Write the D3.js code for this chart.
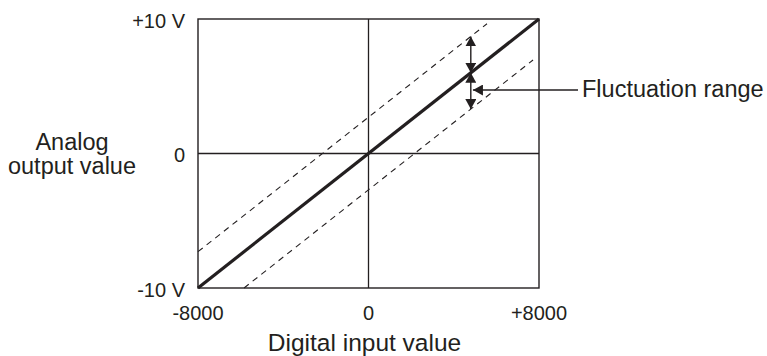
<!DOCTYPE html>
<html>
<head>
<meta charset="utf-8">
<script src="https://cdn.jsdelivr.net/npm/d3@7"></script>
<style>
  html, body { margin: 0; padding: 0; background: #fff; }
  svg { display: block; }
  text { font-family: "Liberation Sans", Arial, sans-serif; fill: #231f20; }
</style>
</head>
<body>
<svg id="chart" width="767" height="356"></svg>
<script>
// ---- data ----
const xDomain = [-8000, 8000];
const yDomain = [-10, 10];
const xTickValues = [-8000, 0, 8000];
const xTickLabels = ["-8000", "0", "+8000"];
const yTickValues = [-10, 0, 10];
const yTickLabels = ["-10 V", "0", "+10 V"];
const idealLine = [[-8000, -10], [8000, 10]];
const upperDashed = [[-8000, -7.3], [5560, 9.65]];
const lowerDashed = [[-5840, -10], [7720, 6.95]];
const arrowX = 4800;
const arrowUpper = [6.0, 8.7];
const arrowLower = [6.0, 3.3];
const calloutY = 4.72;
const calloutX = [4900, 9830];
const calloutText = "Fluctuation range";
const xTitle = "Digital input value";
const yTitleLines = ["Analog", "output value"];

// ---- layout ----
const svg = d3.select("#chart");
const m = { left: 198, right: 539, top: 19, bottom: 288 };
const x = d3.scaleLinear().domain(xDomain).range([m.left, m.right]);
const y = d3.scaleLinear().domain(yDomain).range([m.bottom, m.top]);
const ink = "#231f20";

// frame
svg.append("rect").attr("x", m.left).attr("y", m.top)
  .attr("width", m.right - m.left).attr("height", m.bottom - m.top)
  .attr("fill", "none").attr("stroke", ink).attr("stroke-width", 1.4);
// zero lines
svg.append("line").attr("x1", x(0)).attr("x2", x(0)).attr("y1", m.top).attr("y2", m.bottom)
  .attr("stroke", ink).attr("stroke-width", 1.3);
svg.append("line").attr("x1", m.left).attr("x2", m.right).attr("y1", y(0)).attr("y2", y(0))
  .attr("stroke", ink).attr("stroke-width", 1.3);

const line = d3.line().x(d => x(d[0])).y(d => y(d[1]));
// dashed lines
[upperDashed, lowerDashed].forEach(d => {
  svg.append("path").attr("d", line(d)).attr("fill", "none")
    .attr("stroke", ink).attr("stroke-width", 1.1).attr("stroke-dasharray", "6,5");
});
// ideal line
svg.append("path").attr("d", line(idealLine)).attr("fill", "none")
  .attr("stroke", ink).attr("stroke-width", 3.2);

// arrow markers
const defs = svg.append("defs");
defs.append("marker").attr("id", "ah").attr("viewBox", "0 0 10 11")
  .attr("refX", 10).attr("refY", 5.5).attr("markerWidth", 10).attr("markerHeight", 11)
  .attr("markerUnits", "userSpaceOnUse").attr("orient", "auto")
  .append("path").attr("d", "M0,0 L10,5.5 L0,11 Z").attr("fill", ink);
defs.append("marker").attr("id", "ahs").attr("viewBox", "0 0 10 11")
  .attr("refX", 0).attr("refY", 5.5).attr("markerWidth", 10).attr("markerHeight", 11)
  .attr("markerUnits", "userSpaceOnUse").attr("orient", "auto")
  .append("path").attr("d", "M10,0 L0,5.5 L10,11 Z").attr("fill", ink);

function arrow(x1, y1, x2, y2) {
  svg.append("line").attr("x1", x1).attr("y1", y1).attr("x2", x2).attr("y2", y2)
    .attr("stroke", ink).attr("stroke-width", 1.4)
    .attr("marker-start", "url(#ahs)").attr("marker-end", "url(#ah)");
}
arrow(x(arrowX), y(arrowUpper[0]), x(arrowX), y(arrowUpper[1]));
arrow(x(arrowX), y(arrowLower[0]), x(arrowX), y(arrowLower[1]));

// callout
svg.append("line").attr("x1", x(calloutX[1])).attr("x2", x(calloutX[0]))
  .attr("y1", y(calloutY)).attr("y2", y(calloutY))
  .attr("stroke", ink).attr("stroke-width", 1.4).attr("marker-end", "url(#ah)");
svg.append("text").attr("x", x(calloutX[1]) + 4).attr("y", 97)
  .attr("font-size", 23.5).text(calloutText);

// tick labels
yTickValues.forEach((v, i) => {
  svg.append("text").attr("x", m.left - 13).attr("y", y(v)).attr("dy", "0.43em")
    .attr("text-anchor", "end").attr("font-size", 20).text(yTickLabels[i]);
});
xTickValues.forEach((v, i) => {
  svg.append("text").attr("x", x(v)).attr("y", m.bottom + 32)
    .attr("text-anchor", "middle").attr("font-size", 20).text(xTickLabels[i]);
});
// titles
svg.append("text").attr("x", x(0) - 4).attr("y", 351).attr("text-anchor", "middle")
  .attr("font-size", 24.5).text(xTitle);
yTitleLines.forEach((t, i) => {
  svg.append("text").attr("x", 72).attr("y", 150 + i * 24).attr("text-anchor", "middle")
    .attr("font-size", 23.5).text(t);
});
</script>
</body>
</html>
